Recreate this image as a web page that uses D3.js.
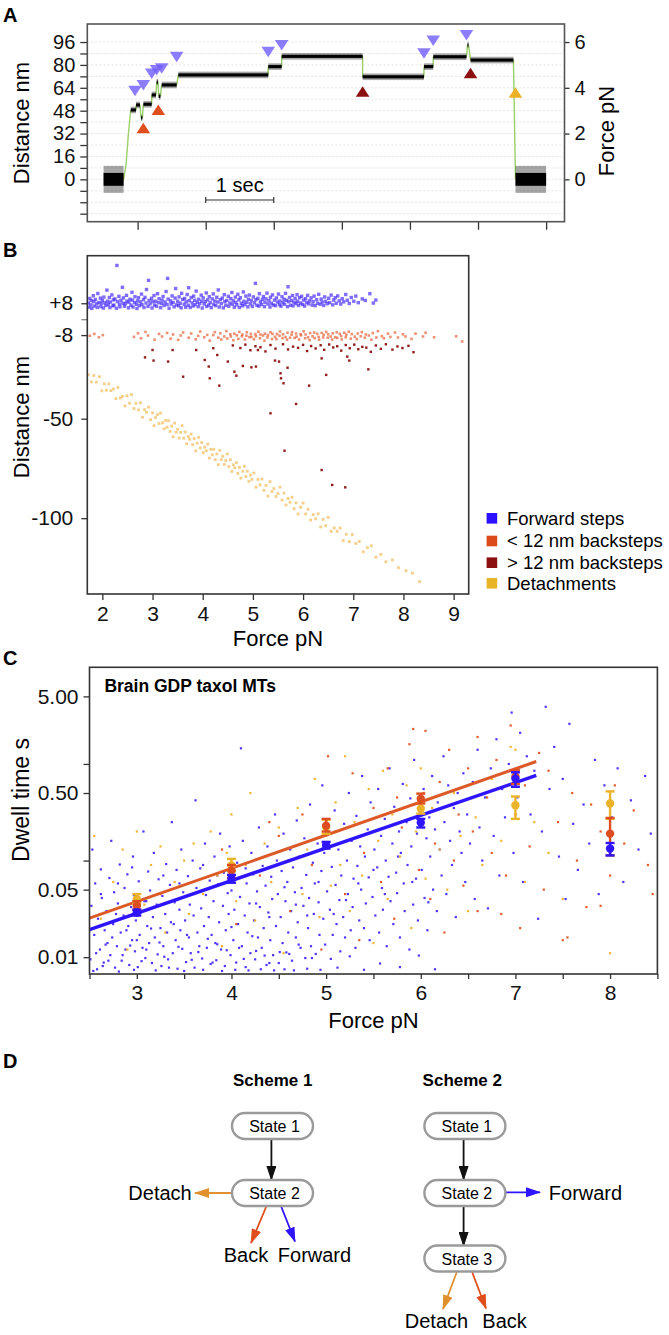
<!DOCTYPE html>
<html><head><meta charset="utf-8">
<script src="https://cdn.jsdelivr.net/npm/d3@7"></script>
<style>body{margin:0;background:#fff} svg{display:block;font-family:"Liberation Sans",Arial,sans-serif}</style>
</head><body><svg id="fig" width="669" height="1335"></svg>
<script>
// ---------------- DATA ----------------
// Panel A: trace levels [t0 (s), t1 (s), distance nm]
const aLevels = [[0.50,0.794,0],[0.899,0.977,48.5],[0.977,1.035,52],[1.05,1.07,43],[1.085,1.207,52.5],[1.207,1.27,59],[1.28,1.30,68],[1.31,1.335,58],[1.354,1.574,66],[1.598,2.919,73],[2.919,3.116,78.8],[3.116,4.305,86],[4.305,5.206,71.7],[5.206,5.342,78.8],[5.342,5.83,85.7],[5.845,5.86,94],[5.89,6.52,83.4],[6.55,7.0,0]];
const aLevelNoise = [4.5,1.1,1.1,1.1,1.1,1.1,1.1,1.1,1.1,1.1,1.1,1.1,1.1,1.1,1.1,1.1,1.1,4.5];
const aRamp = [[0.794,0],[0.83,10],[0.865,32],[0.899,48.5]];
const aFwdMarks = [[0.962,62],[1.084,66],[1.207,74],[1.28,76.4],[1.354,77.6],[1.574,85.7],[2.919,89.2],[3.116,93.9],[5.206,88.1],[5.342,97],[5.83,100.9]];
const aSmallBackMarks = [[1.084,35.7],[1.304,48.5]];
const aLargeBackMarks = [[4.305,61.3],[5.89,74.1]];
const aDetachMarks = [[6.55,60.6]];
const aDistTicks = [96,88,80,72,64,56,48,40,32,24,16,8,0,-8,-16,-24];
const aDistLabels = [96,80,64,48,32,16,0];
const aForceTicks = [0,2,4,6];
const aTimeTicks = [1,2,3,4,5,6,7];

// Panel B: [force pN, distance nm]
const bForward = [[1.72,8.1],[1.73,6.0],[1.75,10.4],[1.77,7.2],[1.78,9.3],[1.79,5.4],[1.82,11.8],[1.83,8.8],[1.84,6.6],[1.86,9.9],[1.89,7.7],[1.90,5.9],[1.91,12.9],[1.93,8.4],[1.96,10.6],[1.97,6.3],[1.98,7.9],[2.00,9.4],[2.02,5.6],[2.03,11.1],[2.05,8.2],[2.07,6.9],[2.09,14.6],[2.10,9.0],[2.12,7.4],[2.14,10.9],[2.15,5.8],[2.16,8.6],[2.19,12.2],[2.21,6.7],[2.22,9.7],[2.23,7.1],[2.25,10.2],[2.28,5.5],[2.29,27.0],[2.30,8.9],[2.33,11.5],[2.34,7.6],[2.35,6.2],[2.37,9.5],[2.40,16.0],[2.41,8.0],[2.42,10.7],[2.44,6.5],[2.46,7.8],[2.48,12.0],[2.49,9.1],
[2.52,5.7],[2.53,8.5],[2.55,10.0],[2.57,7.0],[2.59,13.5],[2.60,9.6],[2.61,6.1],[2.64,8.3],[2.65,11.3],[2.68,7.5],[2.69,5.4],[2.70,9.2],[2.72,10.8],[2.74,6.8],[2.76,8.7],[2.78,12.6],[2.79,7.3],[2.82,9.8],[2.83,5.9],[2.85,11.0],[2.87,8.1],[2.88,14.9],[2.91,6.4],[2.92,19.5],[2.93,9.4],[2.95,7.7],[2.98,10.5],[2.99,5.6],[3.00,8.8],[3.03,11.9],[3.04,7.1],[3.06,9.0],[3.08,6.5],[3.10,12.8],[3.12,8.3],[3.13,10.3],[3.16,5.8],[3.18,7.9],[3.19,9.6],[3.21,11.4],[3.23,6.9],[3.25,8.6],[3.27,13.9],[3.29,7.4],[3.30,20.5],[3.31,10.1],[3.33,5.5],[3.36,9.2],[3.37,7.6],[3.39,11.7],[3.41,8.4],[3.43,6.2],[3.45,10.6],[3.46,15.4],[3.48,7.2],[3.50,9.0],
[3.52,6.7],[3.53,11.2],[3.55,8.0],[3.57,5.7],[3.58,13.0],[3.60,9.9],[3.63,7.5],[3.64,10.4],[3.66,6.0],[3.67,8.7],[3.69,12.4],[3.71,7.0],[3.72,15.8],[3.73,9.3],[3.75,5.9],[3.77,10.9],[3.79,8.2],[3.81,6.6],[3.82,11.6],[3.84,9.5],[3.85,7.3],[3.87,14.1],[3.89,8.5],[3.91,6.3],[3.92,10.0],[3.94,7.8],[3.97,12.1],[3.98,9.0],[3.99,5.6],[4.01,10.7],[4.03,7.6],[4.05,8.9],[4.07,13.2],[4.08,6.4],[4.10,9.7],[4.12,7.1],[4.13,11.3],[4.15,8.3],[4.17,5.8],[4.19,10.2],[4.21,12.7],[4.22,7.4],[4.24,9.1],[4.26,6.8],[4.28,11.0],[4.30,8.6],[4.31,14.7],[4.33,6.1],[4.35,9.8],[4.37,7.8],[4.39,10.6],[4.41,5.7],[4.43,12.3],[4.44,8.8],[4.46,7.0],[4.48,9.4],
[4.51,11.5],[4.52,6.5],[4.54,8.1],[4.56,10.3],[4.58,13.4],[4.59,7.5],[4.61,9.2],[4.63,6.0],[4.65,11.1],[4.66,8.4],[4.68,7.2],[4.70,12.5],[4.72,9.7],[4.73,5.9],[4.75,10.8],[4.77,8.0],[4.79,6.7],[4.81,13.7],[4.82,9.0],[4.84,7.3],[4.86,11.6],[4.88,8.5],[4.90,6.2],[4.91,10.0],[4.93,12.1],[4.95,7.7],[4.97,9.4],[4.99,6.4],[5.01,11.2],[5.03,8.2],[5.05,18.0],[5.06,9.8],[5.08,7.0],[5.10,10.5],[5.12,6.6],[5.13,12.8],[5.15,8.7],[5.17,7.4],[5.19,9.9],[5.21,11.4],[5.23,6.3],[5.24,8.4],[5.26,10.2],[5.28,13.1],[5.30,7.6],[5.32,9.3],[5.34,6.1],[5.35,11.0],[5.37,8.0],[5.39,12.2],[5.41,7.1],[5.43,9.6],[5.45,6.8],[5.47,10.7],[5.49,8.6],
[5.51,12.6],[5.53,7.3],[5.54,9.1],[5.56,6.5],[5.58,11.3],[5.60,8.3],[5.62,10.0],[5.63,7.5],[5.65,13.0],[5.67,9.5],[5.69,6.3],[5.70,16.3],[5.71,8.8],[5.73,10.9],[5.75,7.0],[5.77,9.3],[5.79,11.9],[5.80,6.7],[5.82,8.5],[5.84,10.4],[5.86,7.8],[5.88,12.3],[5.89,9.0],[5.91,6.9],[5.93,10.8],[5.95,8.1],[5.97,11.5],[5.99,7.4],[6.01,9.6],[6.03,6.6],[6.05,10.3],[6.07,8.4],[6.09,12.0],[6.11,7.7],[6.13,9.2],[6.16,10.7],[6.18,7.1],[6.20,8.8],[6.22,11.6],[6.24,6.8],[6.27,9.8],[6.29,8.0],[6.31,12.5],[6.34,7.5],[6.36,10.1],[6.38,8.6],[6.41,6.9],[6.43,11.2],[6.45,9.0],[6.48,7.8],
[6.51,10.5],[6.53,8.3],[6.56,12.1],[6.59,7.2],[6.61,9.6],[6.64,10.8],[6.66,8.0],[6.69,11.7],[6.72,9.2],[6.75,7.6],[6.78,10.3],[6.81,8.7],[6.85,12.4],[6.88,9.5],[6.92,7.9],[6.96,10.9],[7.01,9.0],[7.05,11.6],[7.10,8.3],[7.18,10.2],[7.24,9.4],[7.33,12.8],[7.40,8.1],[7.45,9.6]];
const bSmallBack = [[1.75,-8.3],[1.84,-7.4],[1.93,-9.1],[2.01,-8.0],[2.63,-8.9],[2.71,-7.1],[2.77,-9.6],[2.86,-6.4],[2.91,-8.2],[3.04,-10.3],[3.13,-7.4],[3.19,-8.7],[3.29,-6.9],[3.36,-9.8],[3.41,-7.7],[3.51,-10.4],[3.56,-8.2],[3.61,-6.7],[3.72,-9.3],[3.77,-7.2],[3.86,-10.1],[3.91,-8.4],[3.95,-6.2],[4.03,-9.1],[4.09,-7.9],[4.14,-10.8],[4.21,-8.0],[4.24,-6.5],[4.31,-9.3],[4.35,-7.1],[4.37,-10.2],[4.43,-8.7],[4.47,-6.0],[4.49,-9.7],[4.55,-7.6],[4.56,-8.7],[4.61,-10.6],[4.63,-7.3],[4.68,-8.1],[4.71,-9.9],[4.73,-6.4],[4.78,-8.6],[4.79,-7.7],[4.84,-10.2],[4.87,-8.3],[4.88,-6.6],[4.93,-9.0],[4.96,-7.4],[4.97,-8.9],[5.02,-10.1],[5.05,-7.5],[5.06,-8.6],[5.11,-6.3],[5.14,-9.6],[5.15,-7.7],[5.20,-8.2],[5.23,-10.8],[5.24,-7.3],[5.29,-9.2],[5.30,-8.0],[5.35,-6.6],[5.38,-10.0],[5.39,-7.4],[5.44,-8.9],[5.47,-10.0],[5.48,-7.5],[5.53,-8.3],[5.54,-6.2],[5.59,-9.5],[5.60,-7.6],[5.65,-9.0],[5.68,-10.3],[5.69,-6.8],[5.74,-9.3],[5.77,-7.8],[5.78,-6.5],[5.83,-9.4],[5.86,-7.2],[5.87,-8.8],[5.92,-10.2],[5.95,-7.5],[5.96,-8.1],[6.01,-6.1],[6.04,-9.6],[6.05,-7.7],[6.10,-9.1],[6.13,-10.5],[6.14,-7.0],[6.19,-8.6],[6.22,-6.7],[6.23,-9.5],[6.28,-7.3],[6.31,-8.9],[6.32,-10.3],[6.37,-6.9],[6.40,-9.2],[6.41,-7.9],[6.46,-6.4],[6.49,-9.3],[6.50,-7.6],[6.55,-8.7],[6.58,-10.2],[6.59,-7.1],[6.64,-9.1],[6.67,-6.6],[6.68,-9.4],[6.73,-7.4],[6.76,-8.5],[6.77,-10.2],[6.82,-6.8],[6.85,-9.1],[6.86,-7.8],[6.91,-6.3],[6.95,-9.8],[6.97,-7.5],[7.03,-8.8],[7.07,-10.0],[7.09,-7.2],[7.15,-8.6],[7.17,-6.5],[7.23,-9.3],[7.25,-7.7],[7.31,-8.2],[7.36,-10.3],[7.39,-7.0],[7.46,-9.2],[7.49,-6.0],[7.57,-8.5],[7.61,-9.6],[7.69,-7.3],[7.74,-8.9],[7.83,-6.7],[7.89,-9.2],[7.99,-7.6],[8.04,-8.7],[8.16,-9.9],[8.24,-7.3],[8.39,-8.7],[8.44,-6.8],[8.61,-9.1],[9.05,-8.6],[9.17,-11.2]];
const bLargeBack = [[2.85,-19.2],[3.00,-15.5],[3.02,-20.8],[3.31,-21.3],[3.40,-15.5],[3.61,-28.9],[3.87,-15.5],[4.04,-20.5],[4.12,-23.8],[4.14,-29.7],[4.21,-14.6],[4.29,-18.0],[4.33,-33.4],[4.50,-21.3],[4.63,-26.4],[4.67,-28.4],[4.80,-23.5],[4.97,-24.2],[5.06,-23.8],[5.10,-15.5],[5.35,-47.3],[5.44,-20.8],[5.52,-21.3],[5.55,-27.2],[5.56,-29.7],[5.61,-32.2],[5.63,-66.1],[5.69,-24.4],[5.86,-42.6],[6.12,-33.4],[6.37,-19.7],[6.37,-75.8],[6.46,-28.0],[6.58,-83.3],[6.84,-84.5],[6.88,-18.8],[6.92,-20.8],[7.30,-25.2],[4.60,-13.2],[4.75,-14.5],[4.85,-12.8],[4.95,-15.6],[5.05,-13.6],[5.15,-14.1],[5.25,-16.2],[5.35,-13.0],[5.45,-14.8],[5.60,-12.6],[5.70,-15.2],[5.80,-13.8],[5.90,-14.4],[6.00,-12.9],[6.08,-16.0],[6.16,-13.5],[6.25,-14.7],[6.35,-13.1],[6.42,-15.4],[6.52,-12.7],[6.60,-14.2],[6.68,-13.6],[6.76,-15.8],[6.85,-13.0],[6.93,-14.6],[7.02,-12.8],[7.10,-15.1],[7.18,-13.9],[7.26,-14.3],[7.35,-16.4],[7.45,-13.2],[7.55,-14.9],[7.65,-12.6],[7.78,-15.3],[7.88,-13.7],[7.98,-14.5],[8.10,-13.4],[8.20,-16.6]];
const bDetach = [[1.72,-27.9],[1.78,-31.5],[1.83,-28.3],[1.88,-31.6],[1.94,-28.9],[1.99,-36.0],[2.04,-32.5],[2.08,-35.7],[2.13,-32.5],[2.17,-35.9],[2.22,-35.1],[2.27,-39.9],[2.31,-34.3],[2.36,-39.6],[2.40,-38.8],[2.45,-43.6],[2.49,-38.5],[2.54,-42.2],[2.58,-37.9],[2.63,-44.9],[2.67,-42.3],[2.72,-45.6],[2.76,-42.0],[2.80,-49.3],[2.84,-45.4],[2.88,-46.8],[2.92,-44.2],[2.96,-50.5],[3.00,-47.1],[3.03,-53.5],[3.06,-49.4],[3.10,-47.9],[3.13,-52.4],[3.16,-47.2],[3.20,-52.1],[3.23,-55.1],[3.26,-50.9],[3.29,-54.3],[3.32,-51.0],[3.35,-56.4],[3.38,-53.7],[3.41,-59.1],[3.44,-52.2],[3.47,-56.8],[3.50,-55.3],[3.53,-59.7],[3.56,-56.9],[3.59,-53.5],[3.62,-59.8],[3.65,-56.7],[3.68,-62.6],[3.71,-59.0],[3.74,-60.4],[3.77,-57.7],[3.80,-63.1],[3.83,-60.0],[3.86,-66.2],[3.89,-62.3],[3.92,-59.4],[3.95,-64.7],[3.98,-62.0],[4.01,-67.1],[4.04,-64.3],[4.07,-66.1],[4.10,-62.8],[4.13,-69.8],[4.16,-65.4],[4.19,-68.2],[4.22,-65.4],[4.25,-70.6],[4.28,-67.7],[4.31,-73.1],[4.34,-65.9],[4.37,-70.6],[4.40,-68.9],[4.43,-73.0],[4.46,-71.1],[4.49,-67.7],[4.52,-74.1],[4.55,-70.7],[4.58,-76.5],[4.61,-73.2],[4.64,-74.7],[4.67,-72.1],[4.70,-77.5],[4.73,-74.5],[4.76,-79.9],[4.80,-76.4],[4.83,-73.9],[4.86,-79.1],[4.89,-76.4],[4.92,-81.5],[4.95,-78.4],[4.98,-80.5],[5.02,-77.3],[5.06,-84.4],[5.10,-80.5],[5.14,-83.3],[5.18,-80.3],[5.22,-86.0],[5.26,-83.5],[5.30,-88.9],[5.34,-81.6],[5.38,-86.6],[5.42,-85.1],[5.46,-89.1],[5.50,-87.6],[5.54,-84.4],[5.58,-90.9],[5.62,-87.4],[5.66,-93.4],[5.70,-90.1],[5.74,-92.0],[5.78,-89.5],[5.82,-95.2],[5.86,-92.3],[5.90,-97.9],[5.95,-94.5],[6.00,-92.4],[6.05,-97.9],[6.10,-95.5],[6.15,-100.9],[6.20,-98.2],[6.25,-100.3],[6.30,-97.8],[6.35,-104.4],[6.40,-100.6],[6.45,-103.8],[6.50,-99.6],[6.56,-106.6],[6.62,-104.9],[6.68,-106.6],[6.74,-104.9],[6.80,-111.2],[6.86,-108.1],[6.92,-111.8],[6.98,-108.2],[7.05,-112.7],[7.12,-111.7],[7.20,-116.9],[7.28,-114.8],[7.36,-113.9],[7.45,-119.6],[7.55,-118.2],[7.65,-121.9],[7.78,-121.0],[7.90,-124.9],[8.05,-126.4],[8.18,-127.6],[8.32,-131.9]];
const bLegend = ["Forward steps","< 12 nm backsteps","> 12 nm backsteps","Detachments"];
const bYTicks = [8,0,-8,-50,-100];
const bXTicks = [2,3,4,5,6,7,8,9];

// Panel C: [force pN, dwell time s]
const cForward = [[2.51,0.0095],[2.52,0.034],[2.53,0.13],[2.55,0.017],[2.56,0.058],[2.58,0.0075],[2.59,0.025],[2.61,0.012],[2.62,0.081],[2.63,0.041],[2.65,0.0088],[2.66,0.019],[2.68,0.03],[2.69,0.014],[2.71,0.066],[2.72,0.0105],[2.73,0.16],[2.75,0.022],[2.76,0.047],[2.77,0.0078],[2.79,0.013],[2.80,0.036],[2.82,0.091],[2.83,0.018],[2.84,0.0092],[2.86,0.027],[2.87,0.052],[2.88,0.012],[2.90,0.072],[2.91,0.021],[2.92,0.0083],[2.94,0.033],[2.95,0.015],[2.96,0.11],[2.97,0.044],[2.98,0.0115],[2.99,0.024],
[3.01,0.0079],[3.02,0.061],[3.03,0.017],[3.04,0.029],[3.06,0.0125],[3.07,0.2],[3.08,0.038],[3.09,0.0098],[3.11,0.021],[3.12,0.077],[3.13,0.014],[3.14,0.049],[3.16,0.0087],[3.17,0.026],[3.18,0.12],[3.19,0.016],[3.21,0.035],[3.22,0.0107],[3.23,0.064],[3.25,0.02],[3.26,0.0081],[3.27,0.043],[3.28,0.013],[3.30,0.028],[3.31,0.092],[3.32,0.018],[3.33,0.0095],[3.35,0.056],[3.36,0.023],[3.37,0.25],[3.38,0.011],[3.40,0.037],[3.41,0.015],[3.42,0.08],[3.43,0.0076],[3.45,0.031],[3.46,0.019],[3.47,0.13],[3.48,0.0122],[3.49,0.047],
[3.51,0.024],[3.52,0.0089],[3.54,0.069],[3.55,0.016],[3.56,0.035],[3.57,0.011],[3.59,0.1],[3.60,0.027],[3.61,0.0078],[3.62,0.42],[3.63,0.052],[3.64,0.018],[3.66,0.013],[3.67,0.083],[3.68,0.032],[3.69,0.0097],[3.71,0.021],[3.72,0.15],[3.73,0.044],[3.74,0.0125],[3.76,0.026],[3.77,0.062],[3.78,0.0085],[3.79,0.017],[3.81,0.038],[3.82,0.11],[3.83,0.014],[3.84,0.0093],[3.86,0.057],[3.87,0.023],[3.88,0.19],[3.89,0.012],[3.91,0.034],[3.92,0.075],[3.93,0.0081],[3.94,0.019],[3.96,0.046],[3.97,0.028],[3.98,0.14],[3.99,0.0105],
[4.01,0.065],[4.02,0.015],[4.03,0.031],[4.05,0.0088],[4.06,0.095],[4.07,0.022],[4.09,0.042],[4.10,1.45],[4.11,0.013],[4.12,0.16],[4.14,0.027],[4.15,0.0079],[4.16,0.058],[4.17,0.018],[4.19,0.036],[4.20,0.011],[4.21,0.12],[4.23,0.072],[4.24,0.024],[4.25,0.0095],[4.27,0.048],[4.28,0.016],[4.29,0.22],[4.30,0.033],[4.32,0.0125],[4.33,0.088],[4.34,0.02],[4.36,0.055],[4.37,0.0083],[4.38,0.14],[4.39,0.029],[4.41,0.015],[4.42,0.068],[4.43,0.04],[4.44,0.0105],[4.46,0.3],[4.47,0.021],[4.48,0.1],[4.49,0.045],[4.50,0.0087],
[4.52,0.026],[4.53,0.078],[4.54,0.014],[4.55,0.19],[4.57,0.038],[4.58,0.0112],[4.59,0.06],[4.60,0.018],[4.62,0.13],[4.63,0.03],[4.64,0.0092],[4.65,0.085],[4.67,0.047],[4.68,0.016],[4.69,0.26],[4.70,0.023],[4.72,0.11],[4.73,0.0125],[4.74,0.052],[4.76,0.034],[4.77,0.17],[4.78,0.0098],[4.79,0.071],[4.81,0.02],[4.82,0.041],[4.83,0.38],[4.84,0.013],[4.86,0.095],[4.87,0.028],[4.88,0.058],[4.89,0.0108],[4.91,0.15],[4.92,0.037],[4.93,0.017],[4.95,0.078],[4.96,0.6],[4.97,0.025],[4.98,0.12],[4.99,0.0135],
[5.01,0.048],[5.02,0.2],[5.04,0.031],[5.05,0.0096],[5.06,0.086],[5.07,0.017],[5.09,0.33],[5.10,0.056],[5.11,0.022],[5.13,0.13],[5.14,0.039],[5.15,0.0115],[5.16,0.07],[5.18,0.026],[5.19,0.24],[5.20,0.016],[5.22,0.1],[5.23,0.045],[5.24,0.5],[5.26,0.019],[5.27,0.16],[5.28,0.033],[5.29,0.065],[5.31,0.0125],[5.32,0.29],[5.33,0.088],[5.35,0.024],[5.36,0.14],[5.37,0.05],[5.38,0.75],[5.40,0.02],[5.41,0.11],[5.42,0.036],[5.44,0.21],[5.45,0.067],[5.46,0.015],[5.47,0.4],[5.49,0.042],
[5.51,0.13],[5.52,0.027],[5.54,0.085],[5.55,0.55],[5.56,0.018],[5.58,0.18],[5.59,0.052],[5.60,0.031],[5.62,0.27],[5.63,0.1],[5.64,0.013],[5.66,0.068],[5.67,0.9],[5.68,0.038],[5.70,0.15],[5.71,0.022],[5.72,0.36],[5.74,0.075],[5.75,0.046],[5.77,0.2],[5.78,0.016],[5.79,0.12],[5.81,0.62],[5.82,0.058],[5.83,0.03],[5.85,0.25],[5.86,0.09],[5.88,0.012],[5.89,0.44],[5.90,0.14],[5.92,0.035],[5.93,1.1],[5.95,0.065],[5.96,0.19],[5.97,0.024],[5.99,0.32],
[6.01,0.08],[6.03,0.55],[6.04,0.041],[6.06,0.17],[6.07,0.019],[6.09,0.28],[6.10,0.11],[6.12,0.75],[6.13,0.05],[6.15,0.21],[6.17,0.03],[6.18,0.4],[6.20,0.13],[6.22,0.07],[6.24,1.2],[6.25,0.25],[6.27,0.045],[6.29,0.6],[6.31,0.16],[6.33,0.09],[6.35,0.35],[6.37,0.026],[6.39,0.5],[6.41,0.2],[6.43,0.12],[6.45,0.8],[6.47,0.06],[6.49,0.3],
[6.52,0.15],[6.55,0.65],[6.57,0.04],[6.60,1.4],[6.62,0.22],[6.65,0.1],[6.68,0.45],[6.71,0.032],[6.74,0.9],[6.77,0.18],[6.80,1.8],[6.83,0.07],[6.86,0.55],[6.89,0.28],[6.93,1.0],[6.96,3.4],[6.98,0.12],[7.02,0.45],[7.05,2.1],[7.08,0.06],[7.12,1.2],[7.16,0.3],[7.20,0.85],[7.24,0.025],[7.28,0.2],[7.32,3.9],[7.36,0.55],[7.41,1.5],[7.46,0.11],[7.50,0.7],[7.53,0.04],[7.57,2.6],[7.61,0.24],[7.66,0.08],[7.72,0.38],[7.78,0.15],[7.84,1.1],[7.88,0.045],[7.94,0.6],[8.02,0.28],[8.08,0.9],[8.14,0.06],[8.22,0.42],[8.30,0.13],[8.37,0.75],[8.43,0.19],
[2.54,0.0072],[2.57,0.011],[2.60,0.021],[2.64,0.0081],[2.67,0.0135],[2.70,0.0092],[2.74,0.016],[2.78,0.028],[2.81,0.0071],[2.85,0.0105],[2.89,0.019],[2.93,0.0132],[2.97,0.0074],[3.00,0.015],[3.05,0.0091],[3.10,0.012],[3.15,0.0198],[3.20,0.0073],[3.24,0.0142],[3.29,0.0101],[3.34,0.0078],[3.39,0.022],[3.44,0.0128],[3.50,0.0072],[3.53,0.017],[3.58,0.0094],[3.65,0.0113],[3.70,0.0074],[3.75,0.0155],[3.80,0.0088],[3.85,0.0136],[3.90,0.0072],[3.95,0.0118],[4.00,0.0205],[4.04,0.0074],[4.08,0.0125],[4.13,0.0096],[4.18,0.0073],[4.22,0.0165],[4.26,0.0116],[4.31,0.0075],[4.35,0.0104],[4.40,0.0087],[4.45,0.0073],[4.51,0.0113],[4.56,0.0075],[4.61,0.0108],[4.66,0.0073],[4.71,0.0135],[4.80,0.0076],[4.85,0.0098],[4.94,0.0074],[5.12,0.0078],[5.25,0.0102],[5.40,0.0074],[5.57,0.0086],[5.78,0.0079],[5.98,0.0104],[6.15,0.0075],
[2.62,0.045],[2.80,0.058],[2.95,0.085],[3.10,0.038],[3.28,0.07],[3.45,0.058],[3.58,0.045],[3.70,0.09],[3.85,0.07],[4.00,0.049],[4.15,0.083],[4.26,0.036],[4.40,0.026],[4.56,0.053],[4.68,0.035],[4.80,0.027],[4.92,0.06],[5.08,0.028],[5.21,0.039],[5.34,0.058],[5.50,0.08],[5.62,0.045],[5.76,0.11],[5.91,0.06],[6.08,0.037]];
const cBack = [[3.25,0.045],[3.9,0.13],[4.05,0.022],[4.3,0.07],[4.5,0.18],[4.62,0.03],[4.75,0.3],[4.85,0.09],[4.95,0.012],[5.02,1.2],[5.1,0.2],[5.2,0.045],[5.28,0.8],[5.35,0.015],[5.4,0.12],[5.5,0.35],[5.58,0.06],[5.65,0.9],[5.72,0.025],[5.8,0.22],[5.88,1.6],[5.92,2.3],[5.98,0.08],[6.03,0.5],[6.05,2.2],[6.1,0.04],[6.15,0.15],[6.2,0.65],[6.25,0.018],[6.3,1.4],[6.35,0.1],[6.4,0.3],[6.45,0.055],[6.5,0.9],[6.55,0.2],[6.6,0.03],[6.7,0.45],[6.75,0.12],[6.8,1.1],[6.9,0.07],[6.95,2.5],[7.0,0.3],[7.05,0.02],[7.1,0.6],[7.15,0.14],[7.25,1.3],[7.3,0.05],[7.35,0.85],[7.45,0.25],[7.5,0.015],[7.6,0.5],[7.65,0.1],[7.75,0.033],[7.8,0.38],[7.9,0.2],[8.0,0.07],[8.05,0.6],[8.15,0.15],[8.25,0.33],[8.4,0.09],[8.45,0.045],[4.4,0.25],[5.75,0.45],[6.85,0.028],[7.9,0.034],[7.55,0.016],[6.6,1.9]];
const cDetach = [[2.55,0.18],[2.62,0.025],[2.75,0.06],[2.85,0.13],[2.9,0.012],[3.0,0.2],[3.08,0.035],[3.15,0.09],[3.25,0.14],[3.3,0.018],[3.4,0.06],[3.5,0.1],[3.55,0.028],[3.6,0.15],[3.7,0.045],[3.78,0.2],[3.85,0.07],[3.9,0.013],[3.95,0.12],[4.0,0.3],[4.05,0.038],[4.15,0.09],[4.2,0.5],[4.25,0.024],[4.35,0.15],[4.42,0.06],[4.5,0.22],[4.55,0.011],[4.6,0.1],[4.7,0.35],[4.75,0.045],[4.8,0.13],[4.88,0.7],[4.93,0.026],[5.0,0.18],[5.05,0.055],[5.1,0.4],[5.15,0.09],[5.2,1.2],[5.25,0.03],[5.3,0.25],[5.38,0.07],[5.45,0.55],[5.5,0.014],[5.55,0.16],[5.6,0.85],[5.65,0.04],[5.7,0.3],[5.78,0.11],[5.85,0.6],[5.9,0.02],[5.95,0.2],[6.0,0.9],[6.05,0.065],[6.12,0.35],[6.2,0.13],[6.28,0.05],[6.35,0.5],[6.42,0.18],[6.5,0.03],[6.58,0.28],[6.65,0.09],[6.75,0.7],[6.85,0.16],[6.95,1.5],[7.0,0.4],[7.1,0.06],[7.2,0.25],[7.35,0.12],[7.5,0.04],[8.0,0.011],[7.0,1.4]];
const cMeanForce = [3,4,5,6,7,8];
const cFwdMean = [0.029,0.065,0.144,0.247,0.705,0.133];
const cFwdLo   = [0.027,0.059,0.133,0.22,0.58,0.113];
const cFwdHi   = [0.031,0.071,0.156,0.27,0.82,0.152];
const cBackMean = [0.034,0.079,0.23,0.437,0.74,0.19];
const cBackLo   = [0.031,0.066,0.2,0.39,0.62,0.113];
const cBackHi   = [0.038,0.09,0.27,0.493,0.86,0.276];
const cDetMean = [0.040,0.089,0.222,0.345,0.373,0.39];
const cDetLo   = [0.036,0.078,0.19,0.306,0.27,0.27];
const cDetHi   = [0.045,0.104,0.265,0.394,0.46,0.52];
const cFitBack = [[2.5,0.0254],[7.22,1.06]];
const cFitFwd  = [[2.5,0.0193],[7.22,0.76]];
const cYTicks = [5,1,0.5,0.1,0.05,0.01];
const cYLabels = {5:"5.00",0.5:"0.50",0.05:"0.05",0.01:"0.01"};
const cXTicks = [2.5,3,3.5,4,4.5,5,5.5,6,6.5,7,7.5,8,8.5];

// ---------------- DRAWING ----------------
const svg = d3.select("#fig");
const ORANGE="#df4f1e", DARKRED="#8c1010", YELLOW="#eab126", PURPLE="#6f5cff";
function styleAxis(g, fs){
  g.select(".domain").remove();
  g.selectAll(".tick line").attr("stroke","#333").attr("stroke-width",1.3);
  g.selectAll(".tick text").attr("fill","#111").style("font-size",fs+"px").style("font-family","'Liberation Sans',Arial,sans-serif");
}
function panelLabel(t,x,y){ svg.append("text").attr("x",x).attr("y",y).text(t).style("font-size","20px").style("font-weight","bold"); }
function vTitle(t,x,y,fs){ svg.append("text").attr("transform",`translate(${x},${y}) rotate(-90)`).attr("text-anchor","middle").text(t).style("font-size",fs+"px"); }

// ===== Panel A =====
panelLabel("A",3,22);
const xA = d3.scaleLinear().domain([0.261,7.27]).range([87.3,564.5]);
const yA = d3.scaleLinear().domain([-29.6,108.6]).range([221.7,24]);
const fA = d3.scaleLinear().domain([0,6]).range([yA(0),yA(96)]);
const gA = svg.append("g");
gA.selectAll("line.grid").data(aDistTicks).join("line").attr("class","grid")
  .attr("x1",87.3).attr("x2",564.5).attr("y1",d=>yA(d)).attr("y2",d=>yA(d))
  .attr("stroke","#dcdcdc").attr("stroke-width",0.8).attr("stroke-dasharray","2,2");
const axAL = gA.append("g").attr("transform","translate(87.3,0)")
  .call(d3.axisLeft(yA).tickValues(aDistTicks).tickSize(7).tickPadding(5).tickFormat(d=>aDistLabels.includes(d)?d:""));
styleAxis(axAL,20);
const axAR = gA.append("g").attr("transform","translate(564.5,0)")
  .call(d3.axisRight(fA).tickValues(aForceTicks).tickSize(5).tickPadding(5).tickFormat(d3.format("d")));
styleAxis(axAR,20);
const axAB = gA.append("g").attr("transform","translate(0,221.7)")
  .call(d3.axisBottom(xA).tickValues(aTimeTicks).tickSize(8).tickFormat(""));
styleAxis(axAB,12);
gA.append("rect").attr("x",87.3).attr("y",24).attr("width",564.5-87.3).attr("height",221.7-24)
  .attr("fill","none").attr("stroke","#555").attr("stroke-width",1.6);
const GREEN="#9bd06a";
gA.append("path").datum(aRamp).attr("d",d3.line().x(d=>xA(d[0])).y(d=>yA(d[1])))
  .attr("fill","none").attr("stroke",GREEN).attr("stroke-width",1.4);
for(let i=1;i<aLevels.length-1;i++){
  gA.append("line").attr("x1",xA(aLevels[i][1])).attr("y1",yA(aLevels[i][2]))
    .attr("x2",xA(aLevels[i+1][0])).attr("y2",yA(aLevels[i+1][2]))
    .attr("stroke",GREEN).attr("stroke-width",1.4);
}
gA.selectAll("rect.halo").data(aLevels).join("rect").attr("class","halo")
  .attr("x",d=>xA(d[0])).attr("width",d=>xA(d[1])-xA(d[0]))
  .attr("y",(d,i)=>yA(d[2]+aLevelNoise[i]*2.1)).attr("height",(d,i)=>yA(d[2]-aLevelNoise[i]*2.1)-yA(d[2]+aLevelNoise[i]*2.1))
  .attr("fill","#000").attr("opacity",0.35);
gA.selectAll("rect.core").data(aLevels).join("rect").attr("class","core")
  .attr("x",d=>xA(d[0])).attr("width",d=>xA(d[1])-xA(d[0]))
  .attr("y",(d,i)=>yA(d[2]+aLevelNoise[i])).attr("height",(d,i)=>yA(d[2]-aLevelNoise[i])-yA(d[2]+aLevelNoise[i]))
  .attr("fill","#000");
function tri(g,data,dir,color,op){
  g.selectAll(null).data(data).join("path")
   .attr("d",d=>{const x=xA(d[0]),y=yA(d[1]);return dir<0?`M${x-6.8},${y-5} L${x+6.8},${y-5} L${x},${y+5.5} Z`:`M${x-6.8},${y+5} L${x+6.8},${y+5} L${x},${y-5.5} Z`;})
   .attr("fill",color).attr("opacity",op);
}
tri(gA,aFwdMarks,-1,PURPLE,0.8);
tri(gA,aSmallBackMarks,1,ORANGE,1);
tri(gA,aLargeBackMarks,1,DARKRED,1);
tri(gA,aDetachMarks,1,YELLOW,1);
gA.append("line").attr("x1",xA(2)).attr("x2",xA(3)).attr("y1",200).attr("y2",200).attr("stroke","#333").attr("stroke-width",1.2);
[2,3].forEach(t=>gA.append("line").attr("x1",xA(t)).attr("x2",xA(t)).attr("y1",197).attr("y2",203).attr("stroke","#333").attr("stroke-width",1.2));
gA.append("text").attr("x",xA(2.5)).attr("y",192).attr("text-anchor","middle").text("1 sec").style("font-size","20px");
vTitle("Distance nm",29,123,22);
vTitle("Force pN",614,131,22);

// ===== Panel B =====
panelLabel("B",3,257);
const xB = d3.scaleLinear().domain([1.7,9.3]).range([87.3,468.7]);
const yB = d3.scaleLinear().domain([-138.1,31.9]).range([594,255.7]);
const gB = svg.append("g");
function sq(g,data,x,y,color,op,s){
  g.selectAll(null).data(data).join("rect").attr("x",d=>x(d[0])-s/2).attr("y",d=>y(d[1])-s/2)
   .attr("width",s).attr("height",s).attr("fill",color).attr("opacity",op);
}
sq(gB,bDetach,xB,yB,"#edb54a",0.65,2.8);
sq(gB,bSmallBack,xB,yB,"#e2562a",0.65,2.6);
sq(gB,bLargeBack,xB,yB,DARKRED,0.95,2.4);
sq(gB,bForward,xB,yB,"#3a1fff",0.65,3.4);
const axBL = gB.append("g").attr("transform","translate(87.3,0)")
  .call(d3.axisLeft(yB).tickValues(bYTicks).tickSize(6).tickPadding(8).tickFormat(d=>d===8?"+8":d===0?"":d));
styleAxis(axBL,21);
axBL.selectAll(".tick line").filter(d=>d===0).attr("stroke","#888");
const axBB = gB.append("g").attr("transform","translate(0,594)")
  .call(d3.axisBottom(xB).tickValues(bXTicks).tickSize(6).tickPadding(6));
styleAxis(axBB,21);
gB.append("rect").attr("x",87.3).attr("y",255.7).attr("width",468.7-87.3).attr("height",594-255.7)
  .attr("fill","none").attr("stroke","#333").attr("stroke-width",1.6);
vTitle("Distance nm",29,417,22);
gB.append("text").attr("x",(87.3+468.7)/2).attr("y",646).attr("text-anchor","middle").text("Force pN").style("font-size","22px");
const legColors=["#2a10ff","#dc4a1c",DARKRED,"#e8b428"];
const legY=[518.3,541,562.7,583.3];
bLegend.forEach((t,i)=>{
  gB.append("rect").attr("x",486.6).attr("y",legY[i]-5.3).attr("width",10.6).attr("height",10.6).attr("fill",legColors[i]);
  gB.append("text").attr("x",507).attr("y",legY[i]+6.3).text(t).style("font-size","18.5px");
});

// ===== Panel C =====
panelLabel("C",3,665);
const xC = d3.scaleLinear().domain([2.5,8.5]).range([89.5,657.4]);
const yC = d3.scaleLog().domain([0.0067,10]).range([974,667.3]);
const gC = svg.append("g");
svg.append("clipPath").attr("id","clipC").append("rect").attr("x",89.5).attr("y",667.3).attr("width",657.4-89.5).attr("height",974-667.3);
const gCp = gC.append("g").attr("clip-path","url(#clipC)");
sq(gCp,cForward,xC,yC,"#3a1fff",0.9,2.2);
sq(gCp,cDetach,xC,yC,"#f0b12a",0.95,2.2);
sq(gCp,cBack,xC,yC,"#e2531f",0.95,2.2);
const lineC = d3.line().x(d=>xC(d[0])).y(d=>yC(d[1]));
gCp.append("path").datum(cFitBack).attr("d",lineC).attr("stroke","#dc5a28").attr("stroke-width",3).attr("fill","none");
gCp.append("path").datum(cFitFwd).attr("d",lineC).attr("stroke","#2f14ff").attr("stroke-width",3.4).attr("fill","none");
function errSeries(mean,lo,hi,color){
  cMeanForce.forEach((f,i)=>{
    const x=xC(f);
    gC.append("line").attr("x1",x).attr("x2",x).attr("y1",yC(lo[i])).attr("y2",yC(hi[i])).attr("stroke",color).attr("stroke-width",2.4);
    [lo[i],hi[i]].forEach(v=>gC.append("line").attr("x1",x-4.5).attr("x2",x+4.5).attr("y1",yC(v)).attr("y2",yC(v)).attr("stroke",color).attr("stroke-width",2.4));
    gC.append("circle").attr("cx",x).attr("cy",yC(mean[i])).attr("r",4.2).attr("fill",color);
  });
}
errSeries(cDetMean,cDetLo,cDetHi,"#ebb32a");
errSeries(cBackMean,cBackLo,cBackHi,"#dc4e22");
errSeries(cFwdMean,cFwdLo,cFwdHi,"#2f14ff");
const axCL = gC.append("g").attr("transform","translate(89.5,0)")
  .call(d3.axisLeft(yC).tickValues(cYTicks).tickSize(6).tickPadding(5).tickFormat(d=>cYLabels[d]||""));
styleAxis(axCL,21);
const axCB = gC.append("g").attr("transform","translate(0,974)")
  .call(d3.axisBottom(xC).tickValues(cXTicks).tickSize(5).tickPadding(6).tickFormat(d=>Number.isInteger(d)?d:""));
styleAxis(axCB,21);
gC.append("rect").attr("x",89.5).attr("y",667.3).attr("width",657.4-89.5).attr("height",974-667.3)
  .attr("fill","none").attr("stroke","#333").attr("stroke-width",1.6);
gC.append("text").attr("x",104.4).attr("y",692).text("Brain GDP taxol MTs").style("font-size","17.5px").style("font-weight","bold");
vTitle("Dwell time  s",29,800,23);
gC.append("text").attr("x",(89.5+657.4)/2).attr("y",1028).attr("text-anchor","middle").text("Force pN").style("font-size","22px");

// ===== Panel D =====
panelLabel("D",3,1068);
const gD = svg.append("g");
const defs = svg.append("defs");
[["blk","#111"],["org","#e0902e"],["red","#df4f1e"],["blu","#2f14ff"]].forEach(([id,c])=>{
  defs.append("marker").attr("id","m"+id).attr("markerUnits","userSpaceOnUse").attr("markerWidth",15).attr("markerHeight",10)
   .attr("refX",14).attr("refY",5).attr("orient","auto").append("path").attr("d","M0,0 L15,5 L0,10 Z").attr("fill",c);
});
function state(cx,cy,t){
  gD.append("rect").attr("x",cx-40.5).attr("y",cy-13).attr("width",81).attr("height",26).attr("rx",13)
    .attr("fill","#fff").attr("stroke","#9a9a9a").attr("stroke-width",2.4);
  gD.append("text").attr("x",cx+2).attr("y",cy+6).attr("text-anchor","middle").text(t).style("font-size","16px");
}
function arrow(x1,y1,x2,y2,c,m){
  gD.append("line").attr("x1",x1).attr("y1",y1).attr("x2",x2).attr("y2",y2).attr("stroke",c).attr("stroke-width",1.8).attr("marker-end",`url(#m${m})`);
}
function dtext(t,x,y,anchor){ gD.append("text").attr("x",x).attr("y",y).attr("text-anchor",anchor||"start").text(t).style("font-size","20px"); }
gD.append("text").attr("x",272.7).attr("y",1086).attr("text-anchor","middle").text("Scheme 1").style("font-size","17px").style("font-weight","bold");
gD.append("text").attr("x",462.3).attr("y",1086).attr("text-anchor","middle").text("Scheme 2").style("font-size","17px").style("font-weight","bold");
arrow(271.4,1139,271.4,1180,"#111","blk");
arrow(232,1193,195,1193,"#e0902e","org");
arrow(266.3,1206.5,251,1243,"#df4f1e","red");
arrow(281.2,1206.5,295,1241.5,"#2f14ff","blu");
state(272.5,1126,"State 1");
state(272.5,1193,"State 2");
dtext("Detach",191.7,1200,"end");
dtext("Back",223.7,1262);
dtext("Forward",277.8,1262);
arrow(463.6,1139,463.6,1180,"#111","blk");
arrow(463.6,1206,463.6,1246,"#111","blk");
arrow(505,1192.3,540,1192.3,"#2f14ff","blu");
arrow(456.8,1272,443,1309,"#e0902e","org");
arrow(472.1,1272,486,1308.5,"#df4f1e","red");
state(464.9,1126,"State 1");
state(464.9,1193,"State 2");
state(464.9,1258.5,"State 3");
dtext("Forward",548.8,1200);
dtext("Detach",404.8,1328);
dtext("Back",482.3,1328);
</script></body></html>
